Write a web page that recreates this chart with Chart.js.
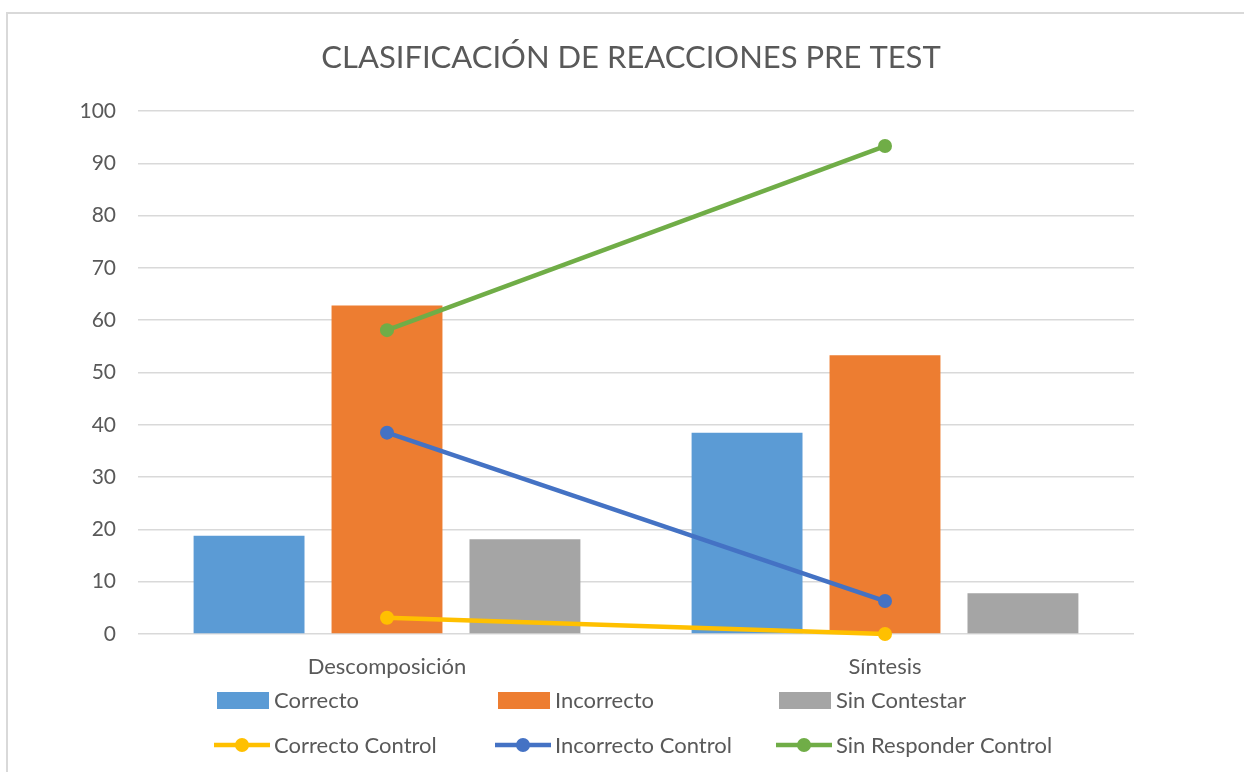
<!DOCTYPE html>
<html>
<head>
<meta charset="utf-8">
<script src="https://cdn.jsdelivr.net/npm/chart.js@4"></script>
<style>
  html, body { margin: 0; padding: 0; background: #fff; }
  #wrap { width: 1244px; height: 772px; position: relative; }
</style>
</head>
<body>
<div id="wrap"><canvas id="myChart" width="1244" height="772"></canvas></div>
<script>
// données
const categories = ['Descomposición', 'Síntesis'];
const correcto = [18.8, 38.5];
const incorrecto = [62.8, 53.3];
const sinContestar = [18.1, 7.8];
const correctoControl = [3.1, 0];
const incorrectoControl = [38.5, 6.3];
const sinResponderControl = [58.1, 93.3];
const yTicks = [0, 10, 20, 30, 40, 50, 60, 70, 80, 90, 100];

const FONT = "Lato, 'Open Sans', sans-serif";
const GREY = '#595959';

// légende en grille (3 colonnes, 2 lignes) comme dans Excel
const gridLegend = {
    id: 'gridLegend',
    afterDraw(chart) {
        const ctx = chart.ctx;
        const cols = [217, 498, 779];
        const rows = [700, 745];
        ctx.save();
        ctx.font = '22px ' + FONT;
        ctx.textBaseline = 'middle';
        chart.data.datasets.forEach((ds, i) => {
            const x = cols[i % 3];
            const y = rows[Math.floor(i / 3)];
            if (ds.type === 'bar') {
                ctx.fillStyle = ds.backgroundColor;
                ctx.fillRect(x, y - 8, 52, 17);
            } else {
                ctx.strokeStyle = ds.borderColor;
                ctx.lineWidth = 4.5;
                ctx.beginPath();
                ctx.moveTo(x - 3, y);
                ctx.lineTo(x + 53, y);
                ctx.stroke();
                ctx.fillStyle = ds.borderColor;
                ctx.beginPath();
                ctx.arc(x + 25, y, 7, 0, Math.PI * 2);
                ctx.fill();
            }
            ctx.fillStyle = GREY;
            ctx.fillText(ds.label, x + 57, y + 1);
        });
        ctx.restore();
    }
};

// cadre (haut et gauche seulement) et titre
const frameTitle = {
    id: 'frameTitle',
    beforeDraw(chart) {
        const ctx = chart.ctx;
        ctx.save();
        ctx.fillStyle = '#fff';
        ctx.fillRect(0, 0, chart.width, chart.height);
        ctx.strokeStyle = '#d9d9d9';
        ctx.lineWidth = 2;
        ctx.beginPath();
        ctx.moveTo(7, chart.height);
        ctx.lineTo(7, 13);
        ctx.lineTo(chart.width, 13);
        ctx.stroke();
        ctx.restore();
    },
    afterDraw(chart) {
        const ctx = chart.ctx;
        ctx.save();
        ctx.font = '31px ' + FONT;
        ctx.fillStyle = GREY;
        ctx.textAlign = 'center';
        ctx.textBaseline = 'middle';
        ctx.fillText('CLASIFICACIÓN DE REACCIONES PRE TEST', 631, 58);
        ctx.restore();
    }
};

const ctx = document.getElementById('myChart').getContext('2d');
const chart = new Chart(ctx, {
    data: {
        labels: categories,
        datasets: [
            { type: 'bar', label: 'Correcto', data: correcto, backgroundColor: '#5b9bd5', order: 2 },
            { type: 'bar', label: 'Incorrecto', data: incorrecto, backgroundColor: '#ed7d31', order: 2 },
            { type: 'bar', label: 'Sin Contestar', data: sinContestar, backgroundColor: '#a5a5a5', order: 2 },
            { type: 'line', label: 'Correcto Control', data: correctoControl, borderColor: '#ffc000',
              backgroundColor: '#ffc000', borderWidth: 4.5, pointRadius: 7, pointBorderWidth: 0, order: 1, clip: false },
            { type: 'line', label: 'Incorrecto Control', data: incorrectoControl, borderColor: '#4472c4',
              backgroundColor: '#4472c4', borderWidth: 4.5, pointRadius: 7, pointBorderWidth: 0, order: 1, clip: false },
            { type: 'line', label: 'Sin Responder Control', data: sinResponderControl, borderColor: '#70ad47',
              backgroundColor: '#70ad47', borderWidth: 4.5, pointRadius: 7, pointBorderWidth: 0, order: 1, clip: false }
        ]
    },
    options: {
        responsive: false,
        animation: false,
        datasets: {
            bar: { categoryPercentage: 0.831, barPercentage: 0.804 }
        },
        layout: { padding: { left: 0, right: 110, top: 111, bottom: 78 } },
        scales: {
            x: {
                grid: { display: false },
                border: { display: false },
                ticks: { color: GREY, font: { family: FONT, size: 22 }, padding: 12 },
                afterFit(scale) { scale.height = 60; }
            },
            y: {
                min: 0,
                max: 100,
                afterBuildTicks(scale) { scale.ticks = yTicks.map(v => ({ value: v })); },
                grid: { color: '#d9d9d9', lineWidth: 1.5, drawTicks: false },
                border: { display: false },
                ticks: { color: GREY, font: { family: FONT, size: 21 }, padding: 22 },
                afterFit(scale) { scale.width = 138; }
            }
        },
        plugins: {
            legend: { display: false },
            title: { display: false },
            tooltip: { enabled: false }
        }
    },
    plugins: [frameTitle, gridLegend]
});
</script>
</body>
</html>
